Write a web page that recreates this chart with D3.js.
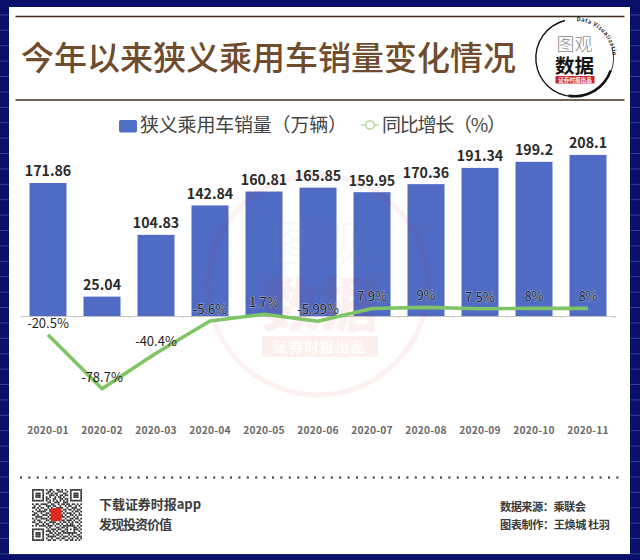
<!DOCTYPE html>
<html><head><meta charset="utf-8">
<script src="https://cdn.jsdelivr.net/npm/d3@7/dist/d3.min.js"></script>
<style>html,body{margin:0;padding:0;background:#0b1270}svg{display:block}text{font-family:"Noto Sans CJK SC","Noto Sans",sans-serif}</style>
</head><body><svg id="c" width="640" height="560"></svg>
<script>
const months=["2020-01","2020-02","2020-03","2020-04","2020-05","2020-06","2020-07","2020-08","2020-09","2020-10","2020-11"];
const sales=[171.86,25.04,104.83,142.84,160.81,165.85,159.95,170.36,191.34,199.2,208.1];
const salesLabels=["171.86","25.04","104.83","142.84","160.81","165.85","159.95","170.36","191.34","199.2","208.1"];
const growth=[-20.5,-78.7,-40.4,-5.6,1.7,-5.99,7.9,9,7.5,8,8];
const growthLabels=["-20.5%","-78.7%","-40.4%","-5.6%","1.7%","-5.99%","7.9%","9%","7.5%","8%","8%"];
const titleText="今年以来狭义乘用车销量变化情况";
const legendBar="狭义乘用车销量（万辆）";
const legendLine="同比增长（%）";
const qrRows=[
"11111110101100110101001111111","10000010011010011100101000001","10111010110101100011001011101",
"10111010001110101101101011101","10111010101001011010001011101","10000010110011001101101000001",
"11111110101010101010101111111","00000000011001110011100000000","10110111100110010110110110101",
"01001000111011001001011001010","11010110010100111100100111001","00101001101111010011011010110",
"10011111001000101101000101101","01100100110111011010111010010","11010011101101110101001101011",
"00111100010010100110110010100","10100111101011011001001101101","01011000110100110110111010010",
"11001101001111001011010101101","00110010110010110100101100010","10101111011101001011111110101",
"00000000101000110110100011010","11111110010111011001101011101","10000010111010100110100010010",
"10111010001101011011111111001","10111010110010110100010100110","10111010011111001011101011011",
"10000010100100110110010100101","11111110011011001001101101010"];

const svg=d3.select("#c");
// page
const defs=svg.append("defs");
const pat=defs.append("pattern").attr("id","stripes").attr("width",10).attr("height",15.4).attr("patternUnits","userSpaceOnUse");
pat.append("rect").attr("width",10).attr("height",15.4).attr("fill","#0a0f6a");
pat.append("rect").attr("y",14.6).attr("width",10).attr("height",.8).attr("fill","#3f49a0");
svg.append("rect").attr("width",640).attr("height",560).attr("fill","url(#stripes)");
svg.append("rect").attr("x",9).attr("y",7).attr("width",621).attr("height",547).attr("fill","#fff");

// header
[16.5,100].forEach(y=>svg.append("line").attr("x1",15.5).attr("x2",624.5).attr("y1",y).attr("y2",y).attr("stroke","#3a2c1e").attr("stroke-width",1.4));
svg.append("text").attr("x",21).attr("y",70).attr("font-size",33).attr("font-weight",500).attr("fill","#6f4c2d").attr("textLength",495).text(titleText);

// logo
const logo=svg.append("g").attr("transform","translate(574.5,58)");
const arc=d3.arc();
logo.append("path").attr("d",arc({innerRadius:38,outerRadius:39.4,startAngle:-3.1,endAngle:-0.25})).attr("fill","#111");
logo.append("path").attr("d",arc({innerRadius:37,outerRadius:39.6,startAngle:1.9,endAngle:3.3})).attr("fill","#111");
logo.append("path").attr("d",arc({innerRadius:38.6,outerRadius:39.4,startAngle:1.3,endAngle:1.9})).attr("fill","#111");
defs.append("path").attr("id","logoArc").attr("d","M2,-37 A37,37 0 0 1 38,-2");
logo.append("text").attr("font-size",5.6).attr("font-weight",700).attr("fill","#222").attr("letter-spacing",.55)
  .append("textPath").attr("href","#logoArc").text("Data Visualization");
logo.append("text").attr("x",0).attr("y",-7).attr("text-anchor","middle").attr("font-size",18).attr("font-weight",300).attr("fill","#8a8a8a").text("图观");
logo.append("text").attr("x",0).attr("y",14.5).attr("text-anchor","middle").attr("font-size",19.5).attr("font-weight",700).attr("fill","#151515").text("数据");
logo.append("rect").attr("x",-19).attr("y",18).attr("width",39).attr("height",7.5).attr("fill","#c8242b");
logo.append("text").attr("x",.5).attr("y",24).attr("text-anchor","middle").attr("font-size",5.6).attr("font-weight",700).attr("fill","#fff").text("证券时报出品");

// legend
svg.append("rect").attr("x",119).attr("y",120).attr("width",18).attr("height",12.5).attr("rx",2).attr("fill","#4f6fc6");
svg.append("text").attr("x",140).attr("y",132).attr("font-size",19).attr("fill","#444").attr("textLength",207).text(legendBar);
svg.append("line").attr("x1",361).attr("x2",379).attr("y1",125).attr("y2",125).attr("stroke","#a9d18e").attr("stroke-width",1.2);
svg.append("circle").attr("cx",370).attr("cy",125).attr("r",4.2).attr("fill","#fff").attr("stroke","#a9d18e").attr("stroke-width",1.2);
svg.append("text").attr("x",382).attr("y",132).attr("font-size",19).attr("fill","#444").attr("textLength",124).text(legendLine);

// scales
const x=d3.scaleBand().domain(months).range([21,615]).paddingInner(.315).paddingOuter(.1575);
const yBar=d3.scaleLinear().domain([0,250]).range([316,122.5]);
const yLine=d3.scaleLinear().domain([-100,20]).range([408.6,297.2]);

// bars
const plot=svg.append("g");
plot.selectAll("rect.bar").data(months).join("rect").attr("class","bar")
  .attr("x",d=>x(d)).attr("width",x.bandwidth())
  .attr("y",(d,i)=>yBar(sales[i])).attr("height",(d,i)=>yBar(0)-yBar(sales[i]))
  .attr("fill","#4f6bc3");

// axis
const axis=svg.append("g").attr("transform","translate(0,316)")
  .call(d3.axisBottom(x).tickSize(0).tickPadding(111));
axis.select(".domain").attr("stroke","#c6c6c6").attr("stroke-width",1);
axis.selectAll("text").attr("font-size",10.3).attr("font-weight",600).attr("fill","#6a6a6a").attr("font-family","'Noto Sans',sans-serif").attr("letter-spacing",.2);
svg.append("g").selectAll("line").data(d3.range(0,12)).join("line")
  .attr("x1",i=>21+i*x.step()).attr("x2",i=>21+i*x.step()).attr("y1",316).attr("y2",318).attr("stroke","#c6c6c6");

// watermark
const wm=svg.append("g").attr("opacity",.06).attr("pointer-events","none");
wm.append("circle").attr("cx",318).attr("cy",285).attr("r",110).attr("fill","none").attr("stroke","#d8261e").attr("stroke-width",5);
wm.append("text").attr("x",320).attr("y",326).attr("text-anchor","middle").attr("font-size",58).attr("font-weight",900).attr("fill","#d8261e").text("数据");
wm.append("text").attr("x",320).attr("y",262).attr("text-anchor","middle").attr("font-size",50).attr("font-weight",300).attr("fill","#999").text("图观");
svg.append("rect").attr("x",262).attr("y",336).attr("width",116).attr("height",21).attr("fill","#d8261e").attr("opacity",.07);
svg.append("text").attr("x",320).attr("y",352).attr("text-anchor","middle").attr("font-size",14).attr("font-weight",500).attr("letter-spacing",1.5).attr("fill","#fff").text("证券时报出品");

// line
const line=d3.line().x(d=>x(d)+x.bandwidth()/2).y((d,i)=>yLine(growth[i]));
svg.append("path").attr("d",line(months)).attr("fill","none").attr("stroke","#7fc465").attr("stroke-width",3.6).attr("stroke-linejoin","round");

// labels
svg.append("g").selectAll("text").data(months).join("text")
  .attr("x",d=>x(d)+x.bandwidth()/2).attr("y",(d,i)=>yBar(sales[i])-6.5)
  .attr("text-anchor","middle").attr("font-size",14.2).attr("font-weight",600).attr("fill","#2b2b2b")
  .attr("font-family","'Noto Sans',sans-serif").text((d,i)=>salesLabels[i]);
svg.append("g").selectAll("text").data(months).join("text")
  .attr("x",d=>x(d)+x.bandwidth()/2).attr("y",(d,i)=>yLine(growth[i])-7)
  .attr("text-anchor","middle").attr("font-size",13).attr("fill","#1f1f1f")
  .attr("font-family","'Noto Sans',sans-serif")
  .attr("stroke","#dfe4f4").attr("stroke-width",(d,i)=>i>2?.9:0).attr("stroke-opacity",.6).attr("paint-order","stroke")
  .text((d,i)=>growthLabels[i]);

// footer
svg.append("line").attr("x1",20).attr("x2",622).attr("y1",477.5).attr("y2",477.5).attr("stroke","#333").attr("stroke-width",2).attr("stroke-dasharray","2 6.4");
const qx=d3.scaleBand().domain(d3.range(29)).range([32,82]);
const qy=d3.scaleBand().domain(d3.range(29)).range([489,541]);
const qr=svg.append("g");
qrRows.forEach((row,r)=>{[...row].forEach((c,k)=>{ if(c==="1") qr.append("rect").attr("x",qx(k)).attr("y",qy(r)).attr("width",qx.bandwidth()).attr("height",qy.bandwidth()).attr("fill","#333");});});
svg.append("rect").attr("x",50.5).attr("y",508).attr("width",11).attr("height",13).attr("rx",2).attr("fill","#dc2a22");
const foot=[["下载证券时报app",99,509,13,700,"#3c3c3c",102],["发现投资价值",99,529,13,700,"#3c3c3c",73],
 ["数据来源：乘联会",500,511,11.2,700,"#3c3c3c",86],["图表制作：王焕城 杜羽",500,529,11.2,700,"#3c3c3c",110]];
svg.append("g").selectAll("text").data(foot).join("text")
 .attr("x",d=>d[1]).attr("y",d=>d[2]).attr("font-size",d=>d[3]).attr("font-weight",d=>d[4]).attr("fill",d=>d[5]).attr("textLength",d=>d[6]).text(d=>d[0]);
</script></body></html>
